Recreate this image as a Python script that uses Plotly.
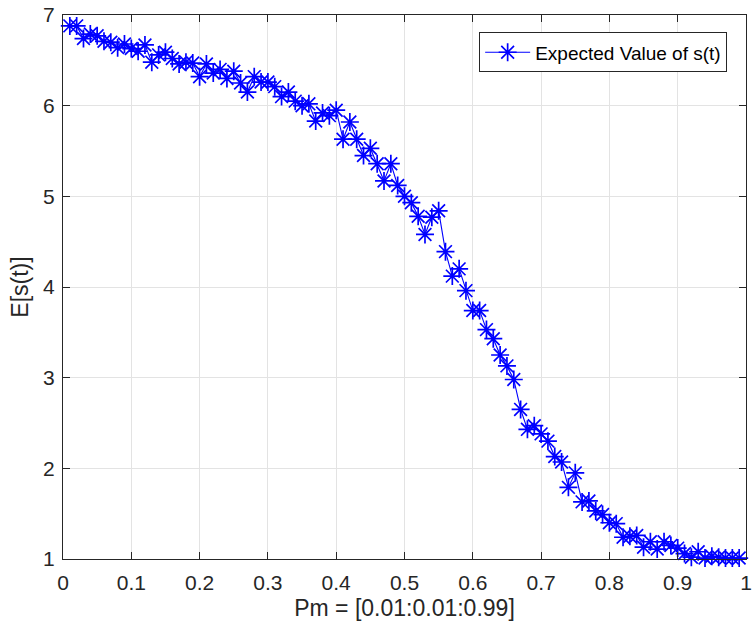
import plotly.graph_objects as go

pm = [0.01, 0.02, 0.03, 0.04, 0.05, 0.06, 0.07, 0.08, 0.09, 0.10,
      0.11, 0.12, 0.13, 0.14, 0.15, 0.16, 0.17, 0.18, 0.19, 0.20,
      0.21, 0.22, 0.23, 0.24, 0.25, 0.26, 0.27, 0.28, 0.29, 0.30,
      0.31, 0.32, 0.33, 0.34, 0.35, 0.36, 0.37, 0.38, 0.39, 0.40,
      0.41, 0.42, 0.43, 0.44, 0.45, 0.46, 0.47, 0.48, 0.49, 0.50,
      0.51, 0.52, 0.53, 0.54, 0.55, 0.56, 0.57, 0.58, 0.59, 0.60,
      0.61, 0.62, 0.63, 0.64, 0.65, 0.66, 0.67, 0.68, 0.69, 0.70,
      0.71, 0.72, 0.73, 0.74, 0.75, 0.76, 0.77, 0.78, 0.79, 0.80,
      0.81, 0.82, 0.83, 0.84, 0.85, 0.86, 0.87, 0.88, 0.89, 0.90,
      0.91, 0.92, 0.93, 0.94, 0.95, 0.96, 0.97, 0.98, 0.99]

expected_s = [6.88, 6.88, 6.74, 6.79, 6.77, 6.71, 6.70, 6.64, 6.68, 6.63,
              6.60, 6.67, 6.48, 6.56, 6.59, 6.52, 6.46, 6.48, 6.47, 6.32,
              6.46, 6.36, 6.40, 6.30, 6.38, 6.25, 6.15, 6.32, 6.26, 6.26,
              6.21, 6.10, 6.15, 6.05, 6.00, 6.02, 5.83, 5.92, 5.89, 5.95,
              5.63, 5.82, 5.63, 5.45, 5.53, 5.36, 5.17, 5.36, 5.12, 5.00,
              4.93, 4.78, 4.58, 4.77, 4.84, 4.39, 4.12, 4.20, 3.96, 3.74,
              3.74, 3.53, 3.43, 3.25, 3.13, 2.98, 2.65, 2.43, 2.47, 2.38,
              2.30, 2.13, 2.07, 1.79, 1.95, 1.63, 1.64, 1.53, 1.49, 1.40,
              1.39, 1.24, 1.25, 1.26, 1.13, 1.19, 1.11, 1.19, 1.15, 1.12,
              1.06, 1.02, 1.08, 1.01, 1.03, 1.02, 1.01, 1.01, 1.01]

x_ticks = [0, 0.1, 0.2, 0.3, 0.4, 0.5, 0.6, 0.7, 0.8, 0.9, 1]
x_tick_labels = ["0", "0.1", "0.2", "0.3", "0.4", "0.5", "0.6", "0.7", "0.8", "0.9", "1"]
y_ticks = [1, 2, 3, 4, 5, 6, 7]

series_name = "Expected Value of s(t)"
x_title = "Pm = [0.01:0.01:0.99]"
y_title = "E[s(t)]"

FONT = "Liberation Sans, Arial, sans-serif"
AX = "#262626"
GRID = "#e3e3e3"

fig = go.Figure()
fig.add_trace(go.Scatter(
    x=pm, y=expected_s, mode="lines+markers", name=series_name,
    line=dict(color="#0000ff", width=1.1),
    marker=dict(symbol="asterisk-open", size=15, color="#0000ff",
                line=dict(color="#0000ff", width=1.7)),
    cliponaxis=False,
))

axis_common = dict(
    showline=True, linecolor=AX, linewidth=1, mirror="ticks",
    ticks="inside", ticklen=7, tickcolor=AX, tickwidth=1,
    showgrid=True, gridcolor=GRID, gridwidth=1, zeroline=False,
    tickfont=dict(family=FONT, size=21, color=AX),
    ticklabeloverflow="allow",
)

fig.update_xaxes(range=[0, 1], tickvals=x_ticks, ticktext=x_tick_labels,
                 title=dict(text=x_title, font=dict(family=FONT, size=23, color=AX), standoff=6),
                 ticklabelstandoff=5, **axis_common)
fig.update_yaxes(range=[1, 7], tickvals=y_ticks,
                 title=dict(text=y_title, font=dict(family=FONT, size=23, color=AX), standoff=8),
                 ticklabelstandoff=3, **axis_common)

fig.update_layout(
    width=753, height=628,
    margin=dict(l=63, r=1, t=15, b=69),
    paper_bgcolor="white", plot_bgcolor="white",
    showlegend=True,
    legend=dict(x=0.9724, xanchor="right", y=0.968, yanchor="top",
                bgcolor="white", bordercolor=AX, borderwidth=1,
                font=dict(family=FONT, size=19, color="#000000"),
                itemwidth=45),
    font=dict(family=FONT),
)

fig.write_html("out.html")
